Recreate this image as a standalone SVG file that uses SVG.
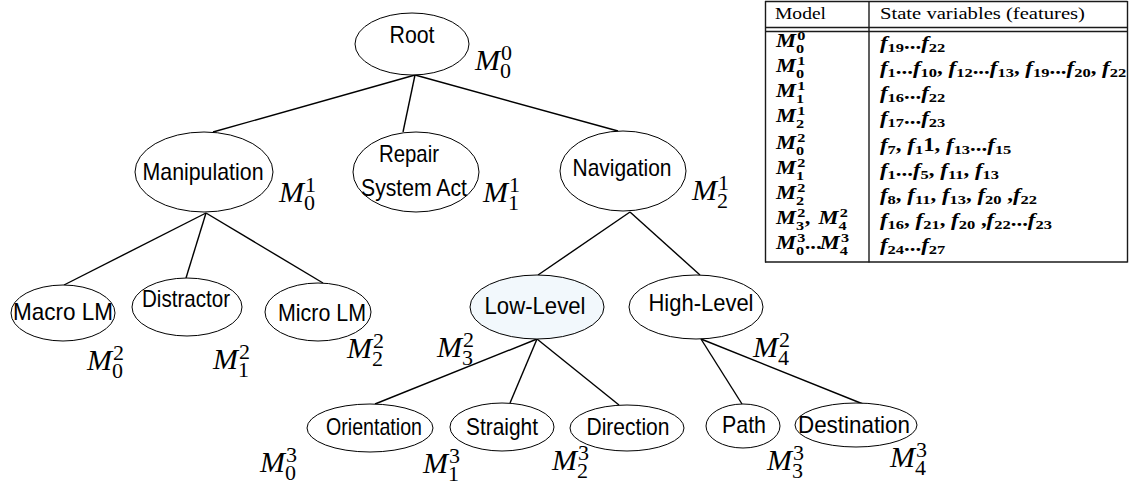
<svg xmlns="http://www.w3.org/2000/svg" width="1129" height="485" viewBox="0 0 1129 485">
<style>
.bg{fill:#fff}
.node ellipse{fill:#fff;stroke:#000;stroke-width:1}
.node ellipse.hl{fill:#f2f8fc}
.lbl{font-family:"Liberation Sans",Arial,sans-serif;font-size:24px;text-anchor:middle;fill:#000}
.edges line{stroke:#000;stroke-width:1.4}
.mm{font-family:"Liberation Serif","Times New Roman",serif;font-style:italic;font-size:30px;fill:#000}
.md{font-style:normal;font-size:22px}
.tab line{stroke:#1a1a1a;stroke-width:1.4}
.th{font-family:"Liberation Serif","Times New Roman",serif;font-size:16.5px;fill:#000}
.tm{font-family:"Liberation Serif","Times New Roman",serif;font-size:18px;font-style:italic;font-weight:bold;fill:#000}
.ts{font-size:13px;font-style:normal}
.tu{font-style:normal}
</style>
<rect class="bg" x="0" y="0" width="1129" height="485"/>

<g id="connectors" class="edges">
  <line x1="415" y1="75" x2="213" y2="132"/>
  <line x1="415" y1="75" x2="403" y2="132"/>
  <line x1="415" y1="75" x2="618" y2="131"/>
  <line x1="206" y1="213" x2="64" y2="285"/>
  <line x1="206" y1="213" x2="186" y2="278"/>
  <line x1="206" y1="213" x2="323" y2="283"/>
  <line x1="630" y1="212" x2="538" y2="275"/>
  <line x1="630" y1="212" x2="700" y2="275"/>
  <line x1="537" y1="339" x2="375" y2="404"/>
  <line x1="537" y1="339" x2="510" y2="403"/>
  <line x1="537" y1="339" x2="619" y2="405"/>
  <line x1="701" y1="339" x2="742" y2="404"/>
  <line x1="701" y1="339" x2="863" y2="404"/>
</g>

<g id="root" class="node">
  <ellipse cx="412" cy="44" rx="57" ry="31"/>
  <text class="lbl" x="412" y="43" textLength="45" lengthAdjust="spacingAndGlyphs">Root</text>
  <text class="mm"><tspan x="475" y="70">M</tspan><tspan class="md" x="501" y="60">0</tspan><tspan class="md" x="500" y="78">0</tspan></text>
</g>

<g id="manipulation" class="node">
  <ellipse cx="204" cy="172" rx="69" ry="40"/>
  <text class="lbl" x="203" y="180" textLength="121" lengthAdjust="spacingAndGlyphs">Manipulation</text>
  <text class="mm"><tspan x="279" y="202">M</tspan><tspan class="md" x="305" y="192">1</tspan><tspan class="md" x="304" y="210">0</tspan></text>
</g>

<g id="repair" class="node">
  <ellipse cx="416" cy="172" rx="63" ry="40"/>
  <text class="lbl" x="409" y="162" textLength="60" lengthAdjust="spacingAndGlyphs">Repair</text>
  <text class="lbl" x="414" y="196" textLength="106" lengthAdjust="spacingAndGlyphs">System Act</text>
  <text class="mm"><tspan x="483" y="202">M</tspan><tspan class="md" x="509" y="192">1</tspan><tspan class="md" x="508" y="210">1</tspan></text>
</g>

<g id="navigation" class="node">
  <ellipse cx="623" cy="171" rx="63" ry="40"/>
  <text class="lbl" x="622" y="176" textLength="99" lengthAdjust="spacingAndGlyphs">Navigation</text>
  <text class="mm"><tspan x="692" y="200">M</tspan><tspan class="md" x="718" y="190">1</tspan><tspan class="md" x="717" y="208">2</tspan></text>
</g>

<g id="macro-lm" class="node">
  <ellipse cx="63" cy="313" rx="52" ry="28"/>
  <text class="lbl" x="63" y="320" textLength="100" lengthAdjust="spacingAndGlyphs">Macro LM</text>
  <text class="mm"><tspan x="87" y="370">M</tspan><tspan class="md" x="113" y="360">2</tspan><tspan class="md" x="112" y="378">0</tspan></text>
</g>

<g id="distractor" class="node">
  <ellipse cx="187" cy="307" rx="55" ry="29"/>
  <text class="lbl" x="186" y="307" textLength="88" lengthAdjust="spacingAndGlyphs">Distractor</text>
  <text class="mm"><tspan x="213" y="369">M</tspan><tspan class="md" x="239" y="359">2</tspan><tspan class="md" x="238" y="377">1</tspan></text>
</g>

<g id="micro-lm" class="node">
  <ellipse cx="318" cy="312" rx="53" ry="29"/>
  <text class="lbl" x="322" y="321" textLength="88" lengthAdjust="spacingAndGlyphs">Micro LM</text>
  <text class="mm"><tspan x="347" y="358">M</tspan><tspan class="md" x="373" y="348">2</tspan><tspan class="md" x="372" y="366">2</tspan></text>
</g>

<g id="low-level" class="node">
  <ellipse class="hl" cx="537" cy="307" rx="67" ry="32"/>
  <text class="lbl" x="535" y="314" textLength="101" lengthAdjust="spacingAndGlyphs">Low-Level</text>
  <text class="mm"><tspan x="437" y="357">M</tspan><tspan class="md" x="463" y="347">2</tspan><tspan class="md" x="462" y="365">3</tspan></text>
</g>

<g id="high-level" class="node">
  <ellipse cx="696" cy="307" rx="67" ry="32"/>
  <text class="lbl" x="701" y="311" textLength="105" lengthAdjust="spacingAndGlyphs">High-Level</text>
  <text class="mm"><tspan x="753" y="357">M</tspan><tspan class="md" x="779" y="347">2</tspan><tspan class="md" x="778" y="365">4</tspan></text>
</g>

<g id="orientation" class="node">
  <ellipse cx="370" cy="428" rx="63" ry="24"/>
  <text class="lbl" x="374" y="435" textLength="96" lengthAdjust="spacingAndGlyphs">Orientation</text>
  <text class="mm"><tspan x="260" y="472">M</tspan><tspan class="md" x="286" y="462">3</tspan><tspan class="md" x="285" y="480">0</tspan></text>
</g>

<g id="straight" class="node">
  <ellipse cx="502" cy="427" rx="52" ry="24"/>
  <text class="lbl" x="502" y="435" textLength="72" lengthAdjust="spacingAndGlyphs">Straight</text>
  <text class="mm"><tspan x="423" y="473">M</tspan><tspan class="md" x="449" y="463">3</tspan><tspan class="md" x="448" y="481">1</tspan></text>
</g>

<g id="direction" class="node">
  <ellipse cx="627" cy="428" rx="57" ry="23"/>
  <text class="lbl" x="628" y="435" textLength="83" lengthAdjust="spacingAndGlyphs">Direction</text>
  <text class="mm"><tspan x="552" y="470">M</tspan><tspan class="md" x="578" y="460">3</tspan><tspan class="md" x="577" y="478">2</tspan></text>
</g>

<g id="path" class="node">
  <ellipse cx="743" cy="426" rx="37" ry="22"/>
  <text class="lbl" x="744" y="433" textLength="44" lengthAdjust="spacingAndGlyphs">Path</text>
  <text class="mm"><tspan x="767" y="470">M</tspan><tspan class="md" x="793" y="460">3</tspan><tspan class="md" x="792" y="478">3</tspan></text>
</g>

<g id="destination" class="node">
  <ellipse cx="856" cy="425" rx="61" ry="22"/>
  <text class="lbl" x="854" y="433" textLength="112" lengthAdjust="spacingAndGlyphs">Destination</text>
  <text class="mm"><tspan x="890" y="467">M</tspan><tspan class="md" x="916" y="457">3</tspan><tspan class="md" x="915" y="475">4</tspan></text>
</g>

<g id="table" class="tab">
  <line x1="765" y1="1.5" x2="1127.5" y2="1.5"/>
  <line x1="765.5" y1="1" x2="765.5" y2="262.5"/>
  <line x1="1127.5" y1="1" x2="1127.5" y2="262.5"/>
  <line x1="869" y1="1" x2="869" y2="262.5"/>
  <line x1="765" y1="27.5" x2="1127.5" y2="27.5"/>
  <line x1="765" y1="31.5" x2="1127.5" y2="31.5"/>
  <line x1="765" y1="262" x2="1127.5" y2="262"/>
  <text class="th" x="775" y="19" textLength="51" lengthAdjust="spacingAndGlyphs">Model</text>
  <text class="th" x="880" y="19" textLength="205" lengthAdjust="spacingAndGlyphs">State variables (features)</text>

  <g transform="translate(776,47) scale(1.25,1)"><text class="tm"><tspan x="0" y="0">M</tspan><tspan class="ts" x="17" y="-7">0</tspan><tspan class="ts" x="16" y="6">0</tspan></text></g>
  <g transform="translate(776,72) scale(1.25,1)"><text class="tm"><tspan x="0" y="0">M</tspan><tspan class="ts" x="17" y="-7">1</tspan><tspan class="ts" x="16" y="6">0</tspan></text></g>
  <g transform="translate(776,97) scale(1.25,1)"><text class="tm"><tspan x="0" y="0">M</tspan><tspan class="ts" x="17" y="-7">1</tspan><tspan class="ts" x="16" y="6">1</tspan></text></g>
  <g transform="translate(776,122) scale(1.25,1)"><text class="tm"><tspan x="0" y="0">M</tspan><tspan class="ts" x="17" y="-7">1</tspan><tspan class="ts" x="16" y="6">2</tspan></text></g>
  <g transform="translate(776,149) scale(1.25,1)"><text class="tm"><tspan x="0" y="0">M</tspan><tspan class="ts" x="17" y="-7">2</tspan><tspan class="ts" x="16" y="6">0</tspan></text></g>
  <g transform="translate(776,174) scale(1.25,1)"><text class="tm"><tspan x="0" y="0">M</tspan><tspan class="ts" x="17" y="-7">2</tspan><tspan class="ts" x="16" y="6">1</tspan></text></g>
  <g transform="translate(776,199) scale(1.25,1)"><text class="tm"><tspan x="0" y="0">M</tspan><tspan class="ts" x="17" y="-7">2</tspan><tspan class="ts" x="16" y="6">2</tspan></text></g>
  <g transform="translate(776,224) scale(1.25,1)"><text class="tm"><tspan x="0" y="0">M</tspan><tspan class="ts" x="17" y="-7">2</tspan><tspan class="ts" x="16" y="6">3</tspan><tspan class="tu" x="23" y="0">,</tspan><tspan x="34" y="0">M</tspan><tspan class="ts" x="51" y="-7">2</tspan><tspan class="ts" x="50" y="6">4</tspan></text></g>
  <g transform="translate(776,249) scale(1.25,1)"><text class="tm"><tspan x="0" y="0">M</tspan><tspan class="ts" x="17" y="-7">3</tspan><tspan class="ts" x="16" y="6">0</tspan><tspan class="tu" x="23" y="0">...</tspan><tspan x="35" y="0">M</tspan><tspan class="ts" x="52" y="-7">3</tspan><tspan class="ts" x="51" y="6">4</tspan></text></g>

  <g transform="translate(880,49) scale(1.27,1)"><text class="tm">f<tspan class="ts" dy="3">19</tspan><tspan class="tu" dy="-3">...</tspan>f<tspan class="ts" dy="3">22</tspan></text></g>
  <g transform="translate(880,74) scale(1.27,1)"><text class="tm">f<tspan class="ts" dy="3">1</tspan><tspan class="tu" dy="-3">...</tspan>f<tspan class="ts" dy="3">10</tspan><tspan class="tu" dy="-3">, </tspan>f<tspan class="ts" dy="3">12</tspan><tspan class="tu" dy="-3">...</tspan>f<tspan class="ts" dy="3">13</tspan><tspan class="tu" dy="-3">, </tspan>f<tspan class="ts" dy="3">19</tspan><tspan class="tu" dy="-3">...</tspan>f<tspan class="ts" dy="3">20</tspan><tspan class="tu" dy="-3">, </tspan>f<tspan class="ts" dy="3">22</tspan></text></g>
  <g transform="translate(880,99) scale(1.27,1)"><text class="tm">f<tspan class="ts" dy="3">16</tspan><tspan class="tu" dy="-3">...</tspan>f<tspan class="ts" dy="3">22</tspan></text></g>
  <g transform="translate(880,124) scale(1.27,1)"><text class="tm">f<tspan class="ts" dy="3">17</tspan><tspan class="tu" dy="-3">...</tspan>f<tspan class="ts" dy="3">23</tspan></text></g>
  <g transform="translate(880,151) scale(1.27,1)"><text class="tm">f<tspan class="ts" dy="3">7</tspan><tspan class="tu" dy="-3">, </tspan>f<tspan class="ts" dy="3">1</tspan><tspan class="tu" dy="-3">1, </tspan>f<tspan class="ts" dy="3">13</tspan><tspan class="tu" dy="-3">...</tspan>f<tspan class="ts" dy="3">15</tspan></text></g>
  <g transform="translate(880,176) scale(1.27,1)"><text class="tm">f<tspan class="ts" dy="3">1</tspan><tspan class="tu" dy="-3">...</tspan>f<tspan class="ts" dy="3">5</tspan><tspan class="tu" dy="-3">, </tspan>f<tspan class="ts" dy="3">11</tspan><tspan class="tu" dy="-3">, </tspan>f<tspan class="ts" dy="3">13</tspan></text></g>
  <g transform="translate(880,201) scale(1.27,1)"><text class="tm">f<tspan class="ts" dy="3">8</tspan><tspan class="tu" dy="-3">, </tspan>f<tspan class="ts" dy="3">11</tspan><tspan class="tu" dy="-3">, </tspan>f<tspan class="ts" dy="3">13</tspan><tspan class="tu" dy="-3">, </tspan>f<tspan class="ts" dy="3">20</tspan><tspan class="tu" dy="-3"> ,</tspan>f<tspan class="ts" dy="3">22</tspan></text></g>
  <g transform="translate(880,226) scale(1.27,1)"><text class="tm">f<tspan class="ts" dy="3">16</tspan><tspan class="tu" dy="-3">, </tspan>f<tspan class="ts" dy="3">21</tspan><tspan class="tu" dy="-3">, </tspan>f<tspan class="ts" dy="3">20</tspan><tspan class="tu" dy="-3"> ,</tspan>f<tspan class="ts" dy="3">22</tspan><tspan class="tu" dy="-3">...</tspan>f<tspan class="ts" dy="3">23</tspan></text></g>
  <g transform="translate(880,251) scale(1.27,1)"><text class="tm">f<tspan class="ts" dy="3">24</tspan><tspan class="tu" dy="-3">...</tspan>f<tspan class="ts" dy="3">27</tspan></text></g>
</g>
</svg>
